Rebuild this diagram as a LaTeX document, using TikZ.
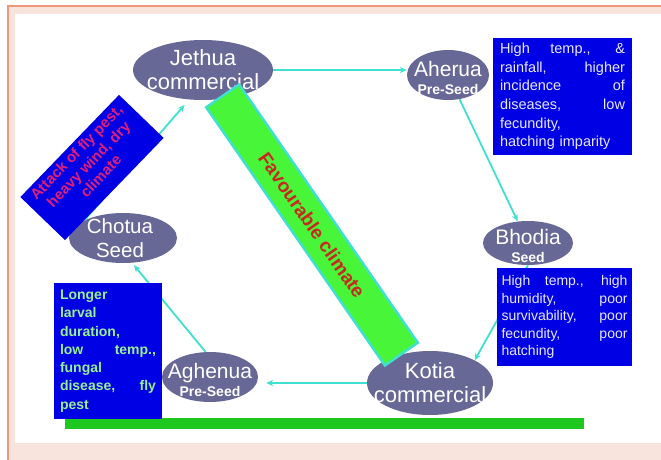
\documentclass[tikz,border=0pt]{standalone}
\usepackage{fontspec}
\setmainfont{Liberation Sans}
\usetikzlibrary{arrows.meta,calc,shapes.geometric}
\definecolor{framepink}{RGB}{248,228,220}
\definecolor{frameline}{RGB}{238,150,120}
\definecolor{ellfill}{RGB}{104,104,150}
\definecolor{boxblue}{RGB}{0,0,228}
\definecolor{cyanline}{RGB}{64,224,208}
\definecolor{lime}{RGB}{72,245,56}
\definecolor{groundgreen}{RGB}{30,200,30}
\definecolor{magtext}{RGB}{225,30,120}
\definecolor{favtext}{RGB}{200,40,30}
\definecolor{lgreentext}{RGB}{150,240,150}
\definecolor{boxwhite}{RGB}{232,232,248}
\newcommand{\jl}[2]{\makebox[#1][s]{\spaceskip=0.28em plus 1fil\relax #2}}
\begin{document}
\begin{tikzpicture}[x=1pt,y=-1pt,
  ell/.style={ellipse, fill=ellfill, inner sep=0pt},
  elltext/.style={text=white, align=center, inner sep=0pt},
  bluebox/.style={fill=boxblue, inner sep=0pt},
  arr/.style={draw=cyanline, line width=1.8pt, -{Stealth[length=7pt,width=6pt]}}
]
\useasboundingbox (0,0) rectangle (661,460);
% frame
\fill[framepink] (8,6) rectangle (661,460);
\draw[frameline, line width=1.2pt] (8,460) -- (8,6) -- (661,6);
\fill[white] (15,14) rectangle (661,443);
% ground bar
\node[fill=groundgreen, minimum width=519pt, minimum height=11pt, inner sep=0pt, anchor=north west] (ground) at (65,418) {};
% ellipses
\node[ell, minimum width=140pt, minimum height=60pt] (jethua) at (203,70) {};
\node[ell, minimum width=82pt, minimum height=50pt] (aherua) at (448,75) {};
\node[ell, minimum width=90pt, minimum height=44pt] (bhodia) at (528,243) {};
\node[ell, minimum width=126pt, minimum height=64pt] (kotia) at (430,383) {};
\node[ell, minimum width=96pt, minimum height=50pt] (aghenua) at (210,377) {};
\node[ell, minimum width=108pt, minimum height=50pt] (chotua) at (123,238) {};
% connectors
\draw[arr] (jethua.east) -- (jethua.east -| aherua.west);
\draw[arr] (aherua) -- (bhodia);
\draw[arr] (bhodia.south) -- (kotia.north east);
\draw[arr, shorten >=8pt] (kotia.west) -- (kotia.west -| aghenua.east);
\draw[arr, shorten >=3pt] (aghenua.100) -- (chotua.290);
\draw[arr, shorten >=7pt] (chotua.north west) -- (jethua.245);
% ellipse texts
\node[elltext, font=\fontsize{22}{24}\selectfont] at (jethua) {Jethua\\commercial};
\node[elltext, font=\fontsize{22}{24}\selectfont] at (kotia) {Kotia\\commercial};
\node[elltext, font=\fontsize{20.5}{24}\selectfont] at ([xshift=-3pt]chotua.center) {Chotua\\Seed};
\node[elltext, font=\fontsize{21}{18}\selectfont] at ([yshift=-3pt]aherua.center) {Aherua\\{\bfseries\fontsize{14}{14}\selectfont Pre-Seed}};
\node[elltext, font=\fontsize{21}{18}\selectfont] at ([yshift=-3pt]bhodia.center) {Bhodia\\{\bfseries\fontsize{14}{14}\selectfont Seed}};
\node[elltext, font=\fontsize{21}{18}\selectfont] at ([yshift=-3pt]aghenua.center) {Aghenua\\{\bfseries\fontsize{14}{14}\selectfont Pre-Seed}};
% text boxes
\node[bluebox, minimum width=139pt, minimum height=117pt, text width=125pt, align=left, text=boxwhite, font=\fontsize{14.5}{18.6}\selectfont] (aheruabox) at (562.5,96.5)
  {\jl{125pt}{High temp., \&}\\\jl{125pt}{rainfall, higher}\\\jl{125pt}{incidence of}\\\jl{125pt}{diseases, low}\\fecundity,\\hatching imparity};
\node[bluebox, minimum width=135pt, minimum height=98pt, text width=126pt, align=left, text=boxwhite, font=\fontsize{14}{17.5}\selectfont] (bhodiabox) at (564.5,317)
  {\jl{126pt}{High temp., high}\\\jl{126pt}{humidity, poor}\\\jl{126pt}{survivability, poor}\\\jl{126pt}{fecundity, poor}\\hatching};
\node[bluebox, minimum width=108pt, minimum height=136pt, text width=96pt, align=left, text=lgreentext, font=\bfseries\fontsize{14}{18.3}\selectfont] (aghenuabox) at (108,351)
  {Longer\\larval\\duration,\\\jl{96pt}{low temp.,}\\fungal\\\jl{96pt}{disease, fly}\\pest};
\node[bluebox, rotate=46, minimum width=142pt, minimum height=62pt] (attack) at (92,167.5) {};
\node[rotate=46, inner sep=0pt, text=magtext, align=center, font=\bfseries\fontsize{15}{17}\selectfont] at ($(attack.center)!5pt!(attack.north)$)
  {Attack of fly pest,\\heavy wind, dry\\climate};
% favourable bar
\node[fill=lime, draw=cyanline, line width=2.5pt, rotate=-55.3, minimum width=314pt, minimum height=40pt, inner sep=0pt, text=favtext, font=\bfseries\fontsize{19}{20}\selectfont] (fav) at (312,225) {Favourable climate};
\end{tikzpicture}
\end{document}
